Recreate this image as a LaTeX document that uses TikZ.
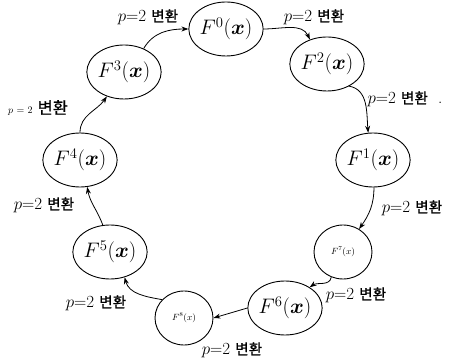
\RequirePackage{fix-cm}
\documentclass[tikz,border=0pt]{standalone}
\usepackage{amsmath}
\usepackage{amssymb}
\usepackage{fontspec}
\newfontfamily\krfont{Noto Sans CJK KR}[Scale=0.86,FakeBold=0.8]
\usepackage{tikz}
\usetikzlibrary{arrows.meta,shapes.geometric}

\begin{document}
\begin{tikzpicture}[x=1pt,y=1pt,>={Stealth[length=7pt,width=5pt]}]
  \tikzstyle{state}=[draw,ellipse,line width=0.9pt,minimum width=58pt,
    minimum height=54pt,inner sep=0pt,font=\fontsize{21}{23}\selectfont]
  \tikzstyle{tinystate}=[state,font=\fontsize{9}{10}\selectfont]
  \tikzstyle{trans}=[inner sep=1pt,font=\fontsize{17}{19}\selectfont]
  \tikzstyle{link}=[->,line width=0.8pt]
  \useasboundingbox (0,0) rectangle (455,361);
  % states, clockwise from the top
  \node[state] (f0) at (226,332) {$F^{0}(\boldsymbol{x})$};
  \node[state] (f2) at (327,297) {$F^{2}(\boldsymbol{x})$};
  \node[state] (f1) at (373,201) {$F^{1}(\boldsymbol{x})$};
  \node[tinystate] (f7) at (343,109) {$F^{7}(x)$};
  \node[state] (f6) at (285,53) {$F^{6}(\boldsymbol{x})$};
  \node[tinystate] (f8) at (184,43) {$F^{8}(x)$};
  \node[state] (f5) at (110,109) {$F^{5}(\boldsymbol{x})$};
  \node[state] (f4) at (80,201) {$F^{4}(\boldsymbol{x})$};
  \node[state] (f3) at (124,289) {$F^{3}(\boldsymbol{x})$};
  % transforms
  \draw[link] (f3.50) to[out=60,in=180] (f0.west);
  \draw[link] (f0.east) to[out=0,in=115] (f2.125);
  \draw[link] (f2.-45) to[out=-10,in=95] (f1.100);
  \draw[link] (f1.-88) to[out=-90,in=55] (f7.55);
  \draw[link] (f7.-115) to[out=-100,in=35] (f6.40);
  \draw[link] (f6.west) -- (f8.east);
  \draw[link] (f8.140) to[out=170,in=-75] (f5.-60);
  \draw[link] (f5.105) to[out=110,in=-80] (f4.-75);
  \draw[link] (f4.north) to[out=90,in=-125] (f3.-125);
  % labels
  \node[trans] (l30) at (148,344) {$p$=2 {\krfont 변환}};
  \node[trans] (l02) at (314,344) {$p$=2 {\krfont 변환}};
  \node[trans] (l21) at (405,262) {$p$=2 {\krfont 변환}\ \ .};
  \node[trans] (l17) at (412,153) {$p$=2 {\krfont 변환}};
  \node[trans] (l76) at (356,66) {$p$=2 {\krfont 변환}};
  \node[trans] (l68) at (232,11) {$p$=2 {\krfont 변환}};
  \node[trans] (l85) at (96,58) {$p$=2 {\krfont 변환}};
  \node[trans] (l54) at (44,156) {$p$=2 {\krfont 변환}};
  \node[trans] (l43) at (38,253) {{\fontsize{10}{11}\selectfont$p$ = 2}\ {\krfont\fontsize{19}{21}\selectfont 변환}};
\end{tikzpicture}
\end{document}
